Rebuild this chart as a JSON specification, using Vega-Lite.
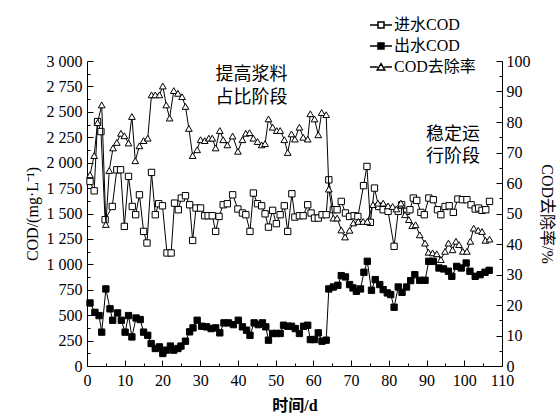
{
  "$schema": "https://vega.github.io/schema/vega-lite/v6.json",
  "width": 415,
  "height": 305,
  "autosize": {"type": "none"},
  "padding": {"left": 87, "top": 61, "right": 58, "bottom": 50},
  "background": "white",
  "config": {
    "font": "Liberation Serif",
    "view": {"stroke": null},
    "axis": {
      "grid": false,
      "domainColor": "black",
      "tickColor": "black",
      "labelColor": "black",
      "titleColor": "black",
      "labelFont": "Liberation Serif",
      "labelFontSize": 16,
      "titleFont": "Liberation Serif, Noto Sans CJK SC",
      "titleFontSize": 16,
      "titleFontWeight": "normal",
      "domainWidth": 1,
      "tickWidth": 1
    }
  },
  "datasets": {
    "cod": [
      {"day": 0.8, "series": "进水COD", "value": 1815}, {"day": 1.9, "series": "进水COD", "value": 1723}, {"day": 2.8, "series": "进水COD", "value": 2404}, {"day": 3.7, "series": "进水COD", "value": 2306}, {"day": 4.8, "series": "进水COD", "value": 1439}, {"day": 6.7, "series": "进水COD", "value": 1569}, {"day": 7.9, "series": "进水COD", "value": 1930}, {"day": 8.9, "series": "进水COD", "value": 1930}, {"day": 9.9, "series": "进水COD", "value": 1373}, {"day": 11.0, "series": "进水COD", "value": 1865}, {"day": 12.0, "series": "进水COD", "value": 1569}, {"day": 12.9, "series": "进水COD", "value": 1488}, {"day": 13.9, "series": "进水COD", "value": 1684}, {"day": 15.0, "series": "进水COD", "value": 1324}, {"day": 15.9, "series": "进水COD", "value": 1210}, {"day": 17.1, "series": "进水COD", "value": 1904}, {"day": 18.1, "series": "进水COD", "value": 1488}, {"day": 19.0, "series": "进水COD", "value": 1596}, {"day": 20.0, "series": "进水COD", "value": 1576}, {"day": 21.2, "series": "进水COD", "value": 1112}, {"day": 22.3, "series": "进水COD", "value": 1112}, {"day": 23.2, "series": "进水COD", "value": 1602}, {"day": 24.2, "series": "进水COD", "value": 1537}, {"day": 25.0, "series": "进水COD", "value": 1652}, {"day": 26.1, "series": "进水COD", "value": 1675}, {"day": 27.2, "series": "进水COD", "value": 1586}, {"day": 28.0, "series": "进水COD", "value": 1235}, {"day": 28.9, "series": "进水COD", "value": 1554}, {"day": 30.1, "series": "进水COD", "value": 1554}, {"day": 31.2, "series": "进水COD", "value": 1478}, {"day": 32.1, "series": "进水COD", "value": 1478}, {"day": 33.2, "series": "进水COD", "value": 1478}, {"day": 34.1, "series": "进水COD", "value": 1324}, {"day": 35.0, "series": "进水COD", "value": 1471}, {"day": 36.1, "series": "进水COD", "value": 1586}, {"day": 37.2, "series": "进水COD", "value": 1596}, {"day": 38.6, "series": "进水COD", "value": 1684}, {"day": 40.0, "series": "进水COD", "value": 1544}, {"day": 41.2, "series": "进水COD", "value": 1505}, {"day": 42.1, "series": "进水COD", "value": 1488}, {"day": 43.2, "series": "进水COD", "value": 1324}, {"day": 44.1, "series": "进水COD", "value": 1701}, {"day": 45.2, "series": "进水COD", "value": 1596}, {"day": 46.3, "series": "进水COD", "value": 1576}, {"day": 47.2, "series": "进水COD", "value": 1497}, {"day": 48.1, "series": "进水COD", "value": 1366}, {"day": 49.2, "series": "进水COD", "value": 1531}, {"day": 50.2, "series": "进水COD", "value": 1400}, {"day": 51.2, "series": "进水COD", "value": 1488}, {"day": 52.3, "series": "进水COD", "value": 1576}, {"day": 53.2, "series": "进水COD", "value": 1324}, {"day": 54.3, "series": "进水COD", "value": 1694}, {"day": 55.1, "series": "进水COD", "value": 1465}, {"day": 56.3, "series": "进水COD", "value": 1478}, {"day": 57.3, "series": "进水COD", "value": 1478}, {"day": 58.5, "series": "进水COD", "value": 1586}, {"day": 59.4, "series": "进水COD", "value": 1505}, {"day": 60.3, "series": "进水COD", "value": 1455}, {"day": 61.3, "series": "进水COD", "value": 1455}, {"day": 62.3, "series": "进水COD", "value": 1488}, {"day": 63.4, "series": "进水COD", "value": 1488}, {"day": 64.1, "series": "进水COD", "value": 1831}, {"day": 65.3, "series": "进水COD", "value": 1537}, {"day": 66.3, "series": "进水COD", "value": 1537}, {"day": 67.4, "series": "进水COD", "value": 1619}, {"day": 68.5, "series": "进水COD", "value": 1505}, {"day": 69.6, "series": "进水COD", "value": 1471}, {"day": 70.8, "series": "进水COD", "value": 1478}, {"day": 71.8, "series": "进水COD", "value": 1470}, {"day": 73.3, "series": "进水COD", "value": 1774}, {"day": 74.2, "series": "进水COD", "value": 1963}, {"day": 75.1, "series": "进水COD", "value": 1413}, {"day": 76.2, "series": "进水COD", "value": 1750}, {"day": 77.3, "series": "进水COD", "value": 1569}, {"day": 78.5, "series": "进水COD", "value": 1537}, {"day": 79.8, "series": "进水COD", "value": 1521}, {"day": 81.4, "series": "进水COD", "value": 1177}, {"day": 82.5, "series": "进水COD", "value": 1521}, {"day": 83.4, "series": "进水COD", "value": 1586}, {"day": 84.7, "series": "进水COD", "value": 1521}, {"day": 85.6, "series": "进水COD", "value": 1537}, {"day": 86.5, "series": "进水COD", "value": 1652}, {"day": 87.4, "series": "进水COD", "value": 1629}, {"day": 88.5, "series": "进水COD", "value": 1511}, {"day": 89.4, "series": "进水COD", "value": 1488}, {"day": 90.6, "series": "进水COD", "value": 1652}, {"day": 91.8, "series": "进水COD", "value": 1636}, {"day": 92.9, "series": "进水COD", "value": 1537}, {"day": 93.8, "series": "进水COD", "value": 1488}, {"day": 94.9, "series": "进水COD", "value": 1569}, {"day": 96.0, "series": "进水COD", "value": 1576}, {"day": 97.1, "series": "进水COD", "value": 1511}, {"day": 98.3, "series": "进水COD", "value": 1642}, {"day": 99.5, "series": "进水COD", "value": 1636}, {"day": 100.7, "series": "进水COD", "value": 1636}, {"day": 101.8, "series": "进水COD", "value": 1586}, {"day": 102.9, "series": "进水COD", "value": 1544}, {"day": 103.8, "series": "进水COD", "value": 1554}, {"day": 104.7, "series": "进水COD", "value": 1531}, {"day": 105.7, "series": "进水COD", "value": 1537}, {"day": 106.7, "series": "进水COD", "value": 1619},
      {"day": 0.8, "series": "出水COD", "value": 620}, {"day": 2.1, "series": "出水COD", "value": 528}, {"day": 3.2, "series": "出水COD", "value": 496}, {"day": 3.9, "series": "出水COD", "value": 333}, {"day": 5.0, "series": "出水COD", "value": 758}, {"day": 6.1, "series": "出水COD", "value": 562}, {"day": 6.8, "series": "出水COD", "value": 450}, {"day": 8.1, "series": "出水COD", "value": 522}, {"day": 9.1, "series": "出水COD", "value": 450}, {"day": 10.1, "series": "出水COD", "value": 333}, {"day": 11.0, "series": "出水COD", "value": 496}, {"day": 11.9, "series": "出水COD", "value": 286}, {"day": 13.0, "series": "出水COD", "value": 472}, {"day": 14.1, "series": "出水COD", "value": 457}, {"day": 15.0, "series": "出水COD", "value": 333}, {"day": 16.1, "series": "出水COD", "value": 302}, {"day": 17.0, "series": "出水COD", "value": 221}, {"day": 18.1, "series": "出水COD", "value": 172}, {"day": 19.2, "series": "出水COD", "value": 188}, {"day": 20.1, "series": "出水COD", "value": 123}, {"day": 21.0, "series": "出水COD", "value": 156}, {"day": 22.1, "series": "出水COD", "value": 196}, {"day": 23.0, "series": "出水COD", "value": 156}, {"day": 24.1, "series": "出水COD", "value": 172}, {"day": 24.9, "series": "出水COD", "value": 196}, {"day": 26.1, "series": "出水COD", "value": 244}, {"day": 27.2, "series": "出水COD", "value": 336}, {"day": 28.1, "series": "出水COD", "value": 375}, {"day": 29.2, "series": "出水COD", "value": 450}, {"day": 30.4, "series": "出水COD", "value": 391}, {"day": 31.7, "series": "出水COD", "value": 385}, {"day": 32.9, "series": "出水COD", "value": 368}, {"day": 34.1, "series": "出水COD", "value": 375}, {"day": 35.2, "series": "出水COD", "value": 326}, {"day": 36.3, "series": "出水COD", "value": 424}, {"day": 37.5, "series": "出水COD", "value": 424}, {"day": 38.8, "series": "出水COD", "value": 407}, {"day": 40.1, "series": "出水COD", "value": 450}, {"day": 41.2, "series": "出水COD", "value": 385}, {"day": 42.3, "series": "出水COD", "value": 352}, {"day": 43.2, "series": "出水COD", "value": 302}, {"day": 44.3, "series": "出水COD", "value": 424}, {"day": 45.4, "series": "出水COD", "value": 407}, {"day": 46.5, "series": "出水COD", "value": 424}, {"day": 47.4, "series": "出水COD", "value": 385}, {"day": 48.1, "series": "出水COD", "value": 254}, {"day": 49.2, "series": "出水COD", "value": 320}, {"day": 50.2, "series": "出水COD", "value": 320}, {"day": 51.2, "series": "出水COD", "value": 320}, {"day": 52.1, "series": "出水COD", "value": 401}, {"day": 53.2, "series": "出水COD", "value": 391}, {"day": 54.2, "series": "出水COD", "value": 391}, {"day": 55.2, "series": "出水COD", "value": 368}, {"day": 56.3, "series": "出水COD", "value": 320}, {"day": 57.4, "series": "出水COD", "value": 391}, {"day": 58.5, "series": "出水COD", "value": 401}, {"day": 59.2, "series": "出水COD", "value": 260}, {"day": 60.3, "series": "出水COD", "value": 260}, {"day": 61.3, "series": "出水COD", "value": 326}, {"day": 62.3, "series": "出水COD", "value": 244}, {"day": 63.4, "series": "出水COD", "value": 254}, {"day": 64.1, "series": "出水COD", "value": 758}, {"day": 65.3, "series": "出水COD", "value": 777}, {"day": 66.5, "series": "出水COD", "value": 794}, {"day": 67.4, "series": "出水COD", "value": 889}, {"day": 68.5, "series": "出水COD", "value": 876}, {"day": 69.6, "series": "出水COD", "value": 801}, {"day": 70.5, "series": "出水COD", "value": 768}, {"day": 71.4, "series": "出水COD", "value": 735}, {"day": 72.5, "series": "出水COD", "value": 758}, {"day": 73.4, "series": "出水COD", "value": 922}, {"day": 74.3, "series": "出水COD", "value": 1030}, {"day": 75.4, "series": "出水COD", "value": 745}, {"day": 76.4, "series": "出水COD", "value": 850}, {"day": 77.6, "series": "出水COD", "value": 801}, {"day": 78.5, "series": "出水COD", "value": 751}, {"day": 79.6, "series": "出水COD", "value": 719}, {"day": 80.5, "series": "出水COD", "value": 703}, {"day": 81.4, "series": "出水COD", "value": 578}, {"day": 82.5, "series": "出水COD", "value": 777}, {"day": 83.5, "series": "出水COD", "value": 725}, {"day": 84.7, "series": "出水COD", "value": 777}, {"day": 85.8, "series": "出水COD", "value": 840}, {"day": 86.9, "series": "出水COD", "value": 898}, {"day": 88.2, "series": "出水COD", "value": 843}, {"day": 89.6, "series": "出水COD", "value": 843}, {"day": 90.6, "series": "出水COD", "value": 1030}, {"day": 91.8, "series": "出水COD", "value": 1030}, {"day": 93.3, "series": "出水COD", "value": 964}, {"day": 94.5, "series": "出水COD", "value": 955}, {"day": 95.8, "series": "出水COD", "value": 932}, {"day": 96.7, "series": "出水COD", "value": 882}, {"day": 98.0, "series": "出水COD", "value": 980}, {"day": 99.2, "series": "出水COD", "value": 964}, {"day": 100.5, "series": "出水COD", "value": 1013}, {"day": 101.5, "series": "出水COD", "value": 932}, {"day": 102.9, "series": "出水COD", "value": 882}, {"day": 104.2, "series": "出水COD", "value": 898}, {"day": 105.5, "series": "出水COD", "value": 922}, {"day": 106.6, "series": "出水COD", "value": 941}
    ],
    "rate": [
      {"day": 0.8, "series": "COD去除率", "rate": 62.7}, {"day": 1.9, "series": "COD去除率", "rate": 69.0}, {"day": 2.8, "series": "COD去除率", "rate": 79.8}, {"day": 3.9, "series": "COD去除率", "rate": 85.6}, {"day": 5.0, "series": "COD去除率", "rate": 46.4}, {"day": 5.9, "series": "COD去除率", "rate": 64.1}, {"day": 6.9, "series": "COD去除率", "rate": 71.5}, {"day": 7.9, "series": "COD去除率", "rate": 73.3}, {"day": 9.0, "series": "COD去除率", "rate": 76.3}, {"day": 9.9, "series": "COD去除率", "rate": 75.5}, {"day": 11.0, "series": "COD去除率", "rate": 73.1}, {"day": 11.9, "series": "COD去除率", "rate": 81.8}, {"day": 12.8, "series": "COD去除率", "rate": 67.3}, {"day": 13.9, "series": "COD去除率", "rate": 72.2}, {"day": 15.0, "series": "COD去除率", "rate": 73.9}, {"day": 16.1, "series": "COD去除率", "rate": 74.7}, {"day": 17.1, "series": "COD去除率", "rate": 88.9}, {"day": 18.1, "series": "COD去除率", "rate": 88.9}, {"day": 19.2, "series": "COD去除率", "rate": 88.9}, {"day": 20.1, "series": "COD去除率", "rate": 91.8}, {"day": 21.0, "series": "COD去除率", "rate": 85.6}, {"day": 21.9, "series": "COD去除率", "rate": 81.3}, {"day": 23.0, "series": "COD去除率", "rate": 90.3}, {"day": 24.1, "series": "COD去除率", "rate": 89.4}, {"day": 25.2, "series": "COD去除率", "rate": 88.3}, {"day": 26.1, "series": "COD去除率", "rate": 85.1}, {"day": 27.0, "series": "COD去除率", "rate": 77.9}, {"day": 28.0, "series": "COD去除率", "rate": 69.0}, {"day": 29.2, "series": "COD去除率", "rate": 70.9}, {"day": 30.1, "series": "COD去除率", "rate": 74.2}, {"day": 31.2, "series": "COD去除率", "rate": 73.9}, {"day": 32.3, "series": "COD去除率", "rate": 74.7}, {"day": 33.2, "series": "COD去除率", "rate": 74.7}, {"day": 34.1, "series": "COD去除率", "rate": 71.5}, {"day": 35.2, "series": "COD去除率", "rate": 77.2}, {"day": 36.1, "series": "COD去除率", "rate": 74.2}, {"day": 37.2, "series": "COD去除率", "rate": 72.5}, {"day": 38.6, "series": "COD去除率", "rate": 75.4}, {"day": 40.0, "series": "COD去除率", "rate": 70.4}, {"day": 41.2, "series": "COD去除率", "rate": 74.2}, {"day": 42.1, "series": "COD去除率", "rate": 76.3}, {"day": 43.1, "series": "COD去除率", "rate": 76.5}, {"day": 44.1, "series": "COD去除率", "rate": 74.7}, {"day": 45.2, "series": "COD去除率", "rate": 73.6}, {"day": 46.3, "series": "COD去除率", "rate": 72.5}, {"day": 47.2, "series": "COD去除率", "rate": 72.9}, {"day": 48.1, "series": "COD去除率", "rate": 81.0}, {"day": 49.2, "series": "COD去除率", "rate": 78.3}, {"day": 50.3, "series": "COD去除率", "rate": 77.2}, {"day": 51.2, "series": "COD去除率", "rate": 77.2}, {"day": 52.3, "series": "COD去除率", "rate": 74.2}, {"day": 53.2, "series": "COD去除率", "rate": 70.0}, {"day": 54.2, "series": "COD去除率", "rate": 76.1}, {"day": 55.1, "series": "COD去除率", "rate": 74.4}, {"day": 56.3, "series": "COD去除率", "rate": 78.3}, {"day": 57.3, "series": "COD去除率", "rate": 75.0}, {"day": 58.5, "series": "COD去除率", "rate": 74.4}, {"day": 59.2, "series": "COD去除率", "rate": 82.7}, {"day": 60.3, "series": "COD去除率", "rate": 81.0}, {"day": 61.3, "series": "COD去除率", "rate": 75.8}, {"day": 62.2, "series": "COD去除率", "rate": 83.1}, {"day": 63.4, "series": "COD去除率", "rate": 82.4}, {"day": 64.1, "series": "COD去除率", "rate": 58.0}, {"day": 65.3, "series": "COD去除率", "rate": 48.5}, {"day": 66.3, "series": "COD去除率", "rate": 48.5}, {"day": 67.4, "series": "COD去除率", "rate": 44.6}, {"day": 68.4, "series": "COD去除率", "rate": 42.3}, {"day": 69.6, "series": "COD去除率", "rate": 44.5}, {"day": 70.6, "series": "COD去除率", "rate": 46.9}, {"day": 71.9, "series": "COD去除率", "rate": 47.4}, {"day": 73.2, "series": "COD去除率", "rate": 47.4}, {"day": 74.3, "series": "COD去除率", "rate": 47.4}, {"day": 75.8, "series": "COD去除率", "rate": 52.9}, {"day": 77.1, "series": "COD去除率", "rate": 53.4}, {"day": 78.5, "series": "COD去除率", "rate": 53.4}, {"day": 79.8, "series": "COD去除率", "rate": 52.5}, {"day": 81.0, "series": "COD去除率", "rate": 52.3}, {"day": 82.0, "series": "COD去除率", "rate": 51.5}, {"day": 83.2, "series": "COD去除率", "rate": 53.4}, {"day": 84.3, "series": "COD去除率", "rate": 49.6}, {"day": 85.3, "series": "COD去除率", "rate": 48.0}, {"day": 86.2, "series": "COD去除率", "rate": 46.0}, {"day": 87.1, "series": "COD去除率", "rate": 46.3}, {"day": 88.2, "series": "COD去除率", "rate": 43.0}, {"day": 89.6, "series": "COD去除率", "rate": 40.3}, {"day": 90.5, "series": "COD去除率", "rate": 37.3}, {"day": 91.6, "series": "COD去除率", "rate": 37.1}, {"day": 92.7, "series": "COD去除率", "rate": 36.8}, {"day": 93.8, "series": "COD去除率", "rate": 34.9}, {"day": 94.9, "series": "COD去除率", "rate": 37.6}, {"day": 95.8, "series": "COD去除率", "rate": 40.3}, {"day": 96.9, "series": "COD去除率", "rate": 38.1}, {"day": 97.8, "series": "COD去除率", "rate": 40.9}, {"day": 98.6, "series": "COD去除率", "rate": 39.8}, {"day": 99.6, "series": "COD去除率", "rate": 37.6}, {"day": 100.7, "series": "COD去除率", "rate": 37.6}, {"day": 101.6, "series": "COD去除率", "rate": 40.9}, {"day": 102.5, "series": "COD去除率", "rate": 45.2}, {"day": 103.7, "series": "COD去除率", "rate": 44.5}, {"day": 104.7, "series": "COD去除率", "rate": 44.1}, {"day": 105.6, "series": "COD去除率", "rate": 41.2}, {"day": 106.7, "series": "COD去除率", "rate": 41.6}
    ],
    "phase": [{"day": 3.7}, {"day": 84.5}],
    "notes": [
      {"day": 43.6, "value": 2863, "text": "提高浆料"},
      {"day": 43.6, "value": 2634, "text": "占比阶段"},
      {"day": 97.0, "value": 2273, "text": "稳定运"},
      {"day": 97.0, "value": 2060, "text": "行阶段"}
    ]
  },
  "encoding": {
    "x": {"field": "day", "type": "quantitative", "scale": {"domain": [0, 110], "nice": false},
      "axis": {
        "title": "时间/d",
        "titleFont": "Liberation Serif, Noto Sans CJK SC",
        "titleFontSize": 16,
        "titleFontWeight": "bold",
        "titlePadding": 6,
        "values": [0,5,10,15,20,25,30,35,40,45,50,55,60,65,70,75,80,85,90,95,100,105,110],
        "labelExpr": "datum.value % 10 === 0 ? datum.label : ''",
        "tickSize": {"condition": {"test": "datum.value % 10 !== 0", "value": -3}, "value": -6},
        "labelPadding": 12,
        "labelFlush": false,
        "labelOverlap": false
      }
    }
  },
  "layer": [
    {
      "encoding": {
        "y": {"field": "value", "type": "quantitative",
          "scale": {"domain": [0, 3000], "nice": false},
          "axis": {
            "orient": "left",
            "title": "COD/(mg·L⁻¹)",
            "titlePadding": 6,
            "values": [0,125,250,375,500,625,750,875,1000,1125,1250,1375,1500,1625,1750,1875,2000,2125,2250,2375,2500,2625,2750,2875,3000],
            "labelExpr": "datum.value % 250 !== 0 ? '' : (datum.value >= 1000 ? floor(datum.value / 1000) + ' ' + format(datum.value % 1000, '03d') : format(datum.value, 'd'))",
            "tickSize": {"condition": {"test": "datum.value % 250 !== 0", "value": -3}, "value": -6},
            "labelPadding": 11,
            "labelOverlap": false,
            "labelFlush": false
          }
        }
      },
      "layer": [
        {
          "data": {"name": "phase"},
          "mark": {"type": "rule", "color": "black", "strokeWidth": 1, "strokeDash": [1.5, 1.5]},
          "encoding": {"y": {"datum": 0}, "y2": {"datum": 3000}}
        },
        {
          "data": {"name": "cod"},
          "mark": {"type": "line", "color": "black", "strokeWidth": 1},
          "encoding": {"detail": {"field": "series"}}
        },
        {
          "data": {"name": "cod"},
          "transform": [{"filter": "datum.series === '进水COD'"}],
          "mark": {"type": "point", "shape": "square", "fill": "white", "stroke": "black", "strokeWidth": 1, "size": 40, "opacity": 1}
        },
        {
          "data": {"name": "cod"},
          "transform": [{"filter": "datum.series === '出水COD'"}],
          "mark": {"type": "point", "shape": "square", "fill": "black", "stroke": "black", "strokeWidth": 1, "size": 40, "opacity": 1}
        },
        {
          "data": {"name": "notes"},
          "mark": {"type": "text", "font": "Noto Sans CJK SC", "fontSize": 18, "color": "black", "align": "center", "baseline": "middle"},
          "encoding": {"text": {"field": "text"}}
        },
        {
          "data": {"name": "cod"},
          "transform": [{"filter": "false"}],
          "mark": {"type": "point", "filled": false, "color": "black", "strokeWidth": 1, "opacity": 1},
          "encoding": {
            "shape": {"field": "series", "type": "nominal",
              "scale": {"domain": ["进水COD", "出水COD", "COD去除率"],
                "range": [
                  "M-2.2,0H-0.6M0.6,0H2.2M-0.6,-0.6H0.6V0.6H-0.6Z",
                  "M-2.2,0H-0.6M0.6,0H2.2M-0.6,-0.6H0.6V0.6H-0.6ZM-0.6,-0.4H0.6M-0.6,-0.2H0.6M-0.6,0H0.6M-0.6,0.2H0.6M-0.6,0.4H0.6",
                  "M-2.2,0H-0.66M0.66,0H2.2M0,-0.68L0.76,0.58H-0.76Z"
                ]},
              "legend": {
                "title": null,
                "orient": "none",
                "legendX": 286,
                "legendY": -44,
                "padding": 0,
                "labelFont": "Liberation Serif, Noto Sans CJK SC",
                "labelFontSize": 16,
                "labelColor": "black",
                "labelOffset": 5,
                "rowPadding": 5,
                "symbolSize": 100
              }
            }
          }
        }
      ]
    },
    {
      "data": {"name": "rate"},
      "encoding": {
        "y": {"field": "rate", "type": "quantitative",
          "scale": {"domain": [0, 100], "nice": false},
          "axis": {
            "orient": "right",
            "title": "COD去除率/%",
            "titleFont": "Liberation Serif, Noto Sans CJK SC",
            "titleAngle": 90,
            "titlePadding": 8,
            "values": [0,5,10,15,20,25,30,35,40,45,50,55,60,65,70,75,80,85,90,95,100],
            "labelExpr": "datum.value % 10 === 0 ? datum.label : ''",
            "tickSize": {"condition": {"test": "datum.value % 10 !== 0", "value": -3}, "value": -6},
            "labelPadding": 10,
            "labelOverlap": false,
            "labelFlush": false
          }
        }
      },
      "layer": [
        {
          "mark": {"type": "line", "color": "black", "strokeWidth": 1}
        },
        {
          "mark": {"type": "point", "shape": "triangle-up", "fill": "white", "stroke": "black", "strokeWidth": 1, "size": 45, "opacity": 1}
        }
      ]
    }
  ],
  "resolve": {"scale": {"y": "independent"}}
}
